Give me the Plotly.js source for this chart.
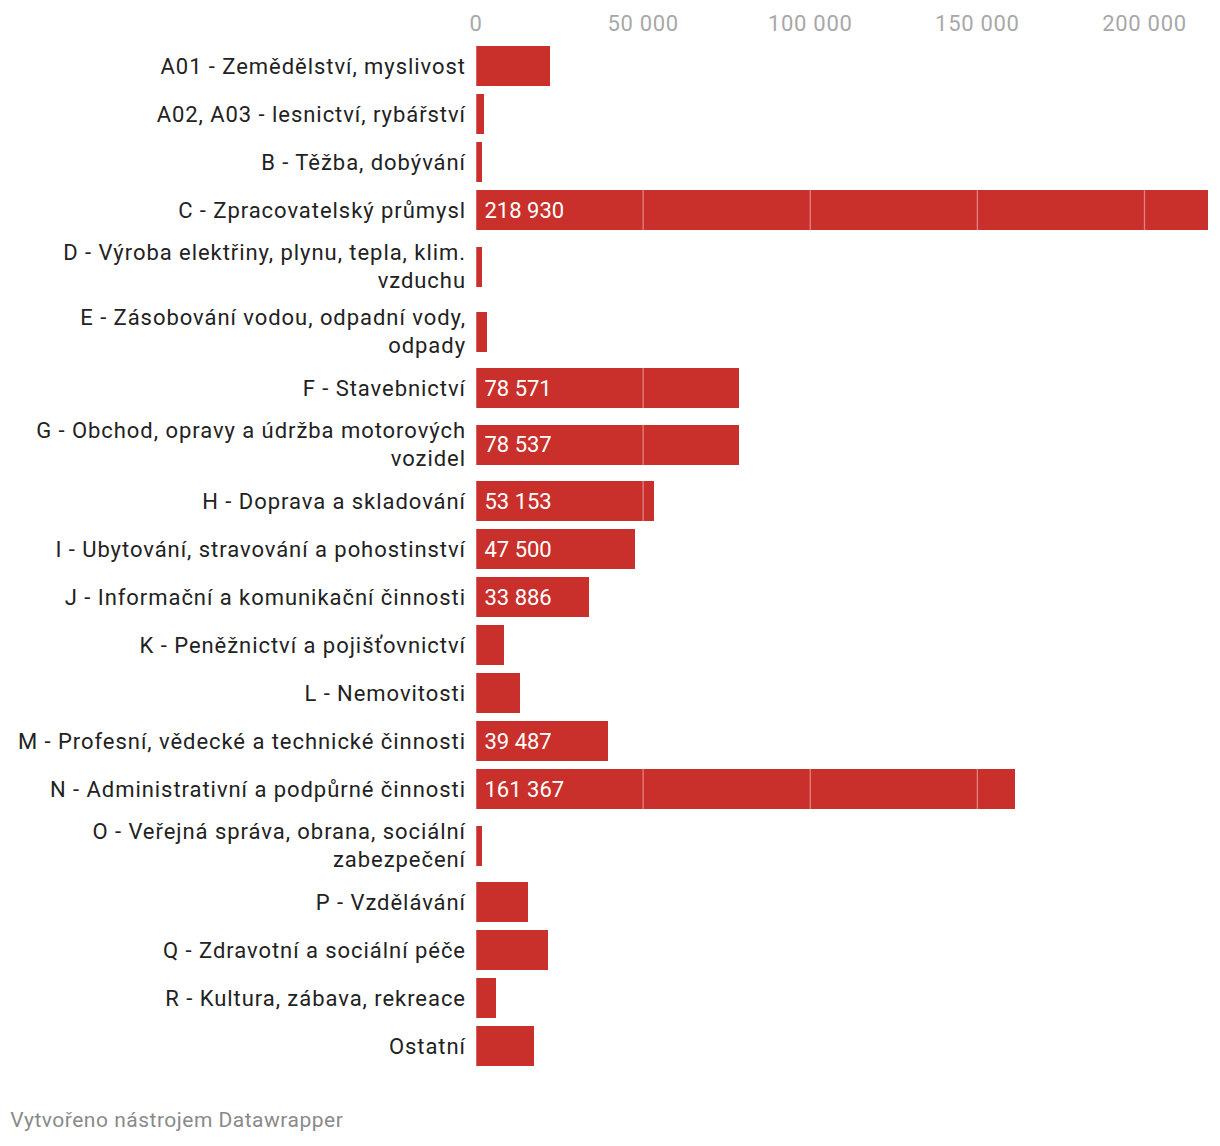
<!DOCTYPE html>
<html><head><meta charset="utf-8">
<script src="https://cdn.plot.ly/plotly-3.0.1.min.js"></script>
<style>
html,body{margin:0;padding:0;background:#fff;}
#chart{width:1220px;height:1146px;}
#chart .ytick text{letter-spacing:0.95px;}
#chart .xtick text{letter-spacing:0.7px;}
#chart .bartext text{letter-spacing:0.7px;}
#chart .annotation-text{letter-spacing:0.5px;}
</style>
</head><body><div id="chart"></div>
<script>
const categories = [
  "A01 - Zemědělství, myslivost",
  "A02, A03 - lesnictví, rybářství",
  "B - Těžba, dobývání",
  "C - Zpracovatelský průmysl",
  "D - Výroba elektřiny, plynu, tepla, klim.<br>vzduchu",
  "E - Zásobování vodou, odpadní vody,<br>odpady",
  "F - Stavebnictví",
  "G - Obchod, opravy a údržba motorových<br>vozidel",
  "H - Doprava a skladování",
  "I - Ubytování, stravování a pohostinství",
  "J - Informační a komunikační činnosti",
  "K - Peněžnictví a pojišťovnictví",
  "L - Nemovitosti",
  "M - Profesní, vědecké a technické činnosti",
  "N - Administrativní a podpůrné činnosti",
  "O - Veřejná správa, obrana, sociální<br>zabezpečení",
  "P - Vzdělávání",
  "Q - Zdravotní a sociální péče",
  "R - Kultura, zábava, rekreace",
  "Ostatní"
];
const values = [22050, 2300, 1750, 218930, 1700, 3350, 78571, 78537, 53153, 47500, 33886, 8300, 13100, 39487, 161367, 1700, 15500, 21450, 5900, 17300];
const xTicks = [0, 50000, 100000, 150000, 200000];
const xTickLabels = ["0", "50 000", "100 000", "150 000", "200 000"];
const footerText = "Vytvořeno nástrojem Datawrapper";

// layout constants
const ROW1 = 48, ROW2 = 65, BAR_W = 40, LABEL_MIN = 30000;
const W = 1220, H = 1146, ML = 476, MR = 12, MT = 42;

// row positions derived from number of label lines
const heights = categories.map(c => c.includes("<br>") ? ROW2 : ROW1);
const pos = [];
let acc = 0;
heights.forEach((h, i) => { pos.push(acc + h / 2); acc += h; });
const total = acc;
const MB = H - MT - total;

const trace = {
  type: "bar",
  orientation: "h",
  x: values,
  y: pos,
  width: BAR_W,
  marker: {color: "#c9302b", line: {width: 0}},
  texttemplate: values.map(v => v >= LABEL_MIN ? "\u00a0%{x:,}" : ""),
  textposition: "inside",
  insidetextanchor: "start",
  constraintext: "none",
  textfont: {family: "Roboto, sans-serif", size: 22, color: "#ffffff"},
  hoverinfo: "skip",
  cliponaxis: false
};

const layout = {
  width: W, height: H,
  margin: {l: ML, r: MR, t: MT, b: MB, pad: 0},
  paper_bgcolor: "#ffffff",
  plot_bgcolor: "#ffffff",
  separators: ", ",
  font: {family: "Roboto, sans-serif", size: 22, color: "#222222"},
  showlegend: false,
  bargap: 0,
  xaxis: {
    side: "top",
    range: [0, 219000],
    tickvals: xTicks,
    ticktext: xTickLabels,
    showgrid: false, zeroline: false, showline: false,
    ticks: "",
    ticklabelstandoff: 6,
    tickfont: {family: "Roboto, sans-serif", size: 22, color: "#a8a8a8"},
    fixedrange: true
  },
  yaxis: {
    range: [total, 0],
    autorange: false,
    tickvals: pos,
    ticktext: categories,
    showgrid: false, zeroline: false, showline: false,
    ticks: "",
    ticklabelstandoff: 9,
    tickfont: {family: "Roboto, sans-serif", size: 22, color: "#222222"},
    fixedrange: true
  },
  shapes: xTicks.map(t => ({
    type: "line", xref: "x", yref: "paper",
    x0: t, x1: t, y0: 0, y1: 1,
    line: {color: "rgba(255,255,255,0.4)", width: 1.3},
    layer: "above"
  })),
  annotations: [{
    text: footerText,
    xref: "paper", yref: "paper",
    x: 0, y: 0,
    xanchor: "left", yanchor: "middle",
    xshift: -(ML - 16),
    yshift: -(1120 - (MT + total)),
    showarrow: false,
    font: {family: "Roboto, sans-serif", size: 21, color: "#8a8a8a"}
  }]
};

Plotly.newPlot("chart", [trace], layout, {displayModeBar: false, staticPlot: true});
</script>
</body></html>
